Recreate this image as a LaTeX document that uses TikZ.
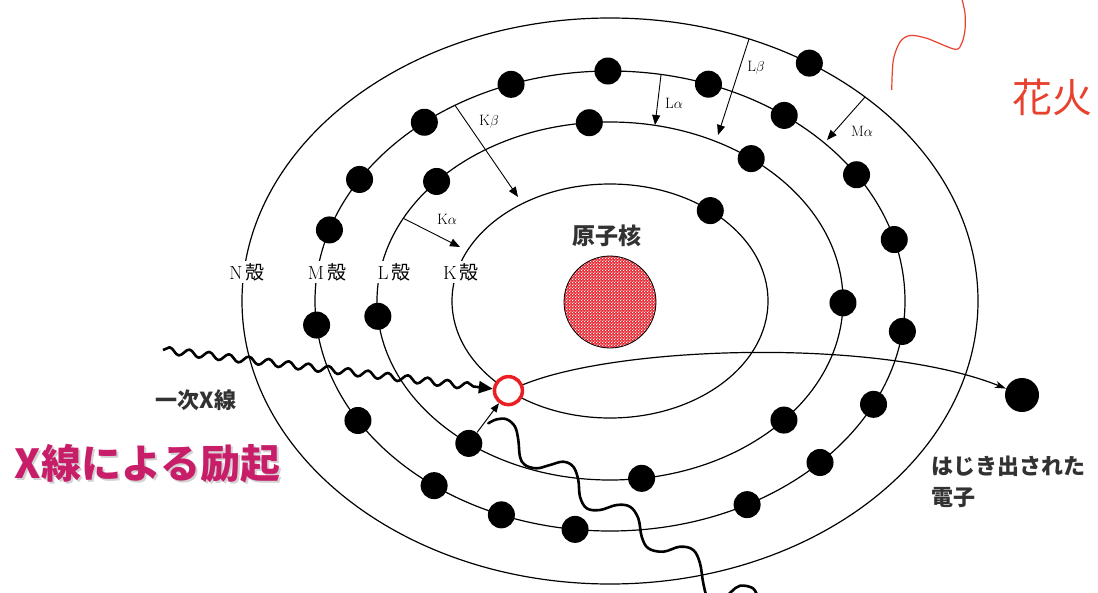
\documentclass[tikz,border=0pt]{standalone}
\usepackage{fontspec}
\newfontfamily\cjk{Noto Sans CJK JP}
\usetikzlibrary{decorations.pathmorphing,arrows.meta,patterns}
\definecolor{inkgray}{RGB}{50,50,50}
\definecolor{excite}{RGB}{200,30,105}
\definecolor{hanabi}{RGB}{232,65,45}
\definecolor{holered}{RGB}{235,30,35}
\definecolor{nucred}{RGB}{232,40,50}
% fine white checks laid over the red nucleus
\pgfdeclarepatternformonly{nucchecks}{\pgfpointorigin}{\pgfqpoint{3.2pt}{3.2pt}}{\pgfqpoint{3.2pt}{3.2pt}}{%
  \pgfpathrectangle{\pgfpointorigin}{\pgfqpoint{1.3pt}{1.3pt}}%
  \pgfpathrectangle{\pgfqpoint{1.6pt}{1.6pt}}{\pgfqpoint{1.3pt}{1.3pt}}%
  \pgfusepath{fill}}
\begin{document}
\begin{tikzpicture}[x=1pt,y=-1pt,
  shell/.style={line width=1.2pt},
  electron/.style={circle,fill=black,inner sep=0pt,minimum size=27pt},
  trans/.style={line width=0.9pt,-{Triangle[length=10pt,width=8pt]}},
  shelllabel/.style={fill=white,inner sep=2pt,font=\fontsize{19}{21}\selectfont},
  translabel/.style={inner sep=0pt,font=\fontsize{15}{17}\selectfont},
  jtext/.style={text=inkgray,inner sep=0pt,font=\cjk\bfseries\fontsize{22}{31}\selectfont},
  wave/.style={line width=2.6pt,line cap=round,line join=round},
]
\useasboundingbox (0,0) rectangle (1098,592);
\coordinate (c) at (610,301);

% electron shells K, L, M, N
\draw[shell] (c) ellipse [x radius=158pt, y radius=117pt];
\draw[shell] (c) ellipse [x radius=233pt, y radius=179pt];
\draw[shell] (c) ellipse [x radius=295pt, y radius=230pt];
\draw[shell] (c) ellipse [x radius=368pt, y radius=283pt];

% characteristic transitions
\coordinate (ka-s) at (403.3,218.3);
\coordinate (ka-e) at (460,247);
\coordinate (kb-s) at (455,105.3);
\coordinate (kb-e) at (518,197);
\coordinate (la-s) at (661,75);
\coordinate (la-e) at (655,125);
\coordinate (lb-s) at (749,39);
\coordinate (lb-e) at (718,135);
\coordinate (ma-s) at (865,97);
\coordinate (ma-e) at (827,140);
\draw[trans] (ka-s) -- (ka-e);
\draw[trans] (kb-s) -- (kb-e);
\draw[trans] (la-s) -- (la-e);
\draw[trans] (lb-s) -- (lb-e);
\draw[trans] (ma-s) -- (ma-e);
\node[translabel] (ka) at (447,219) {K$\alpha$};
\node[translabel] (kb) at (489,122) {K$\beta$};
\node[translabel] (la) at (674,103) {L$\alpha$};
\node[translabel] (lb) at (756,68) {L$\beta$};
\node[translabel] (ma) at (862,131) {M$\alpha$};

% shell names
\node[shelllabel] (nlab) at (247,272) {N\hspace{3pt}{\cjk 殻}};
\node[shelllabel] (mlab) at (327,272) {M\hspace{3pt}{\cjk 殻}};
\node[shelllabel] (llab) at (394,272) {L\hspace{3pt}{\cjk 殻}};
\node[shelllabel] (klab) at (461,272) {K\hspace{3pt}{\cjk 殻}};

% electrons on each shell
\foreach \t [count=\i] in {50.6}
  \node[electron] (k\i) at ({610+158*cos(\t)},{301-117*sin(\t)}) {};
\foreach \t [count=\i] in {138.1,95.1,52.7,359.4,318.3,277.8,232.7,184.9}
  \node[electron] (l\i) at ({610+233*cos(\t)},{301-179*sin(\t)}) {};
\foreach \t [count=\i] in {162,148.1,129,109.6,90.4,70.5,53.8,33.3,15.5,352.4,333.3,315.4,297.7,263.2,248.4,233.4,211.3,186}
  \node[electron] (m\i) at ({610+295*cos(\t)},{301-230*sin(\t)}) {};
\node[electron] (n1) at ({610+368*cos(57.2)},{301-283*sin(57.2)}) {};

% vacancy in the K shell
\node[circle,draw=holered,line width=3.5pt,fill=white,minimum size=28pt,inner sep=0pt]
  (hole) at ({610+158*cos(230)},{301-117*sin(230)}) {};

% nucleus
\node[circle,draw,line width=0.8pt,preaction={fill=nucred},pattern=nucchecks,pattern color=white,
  minimum size=92pt,inner sep=0pt] (nuc) at (610,302) {};
\node[jtext,font=\cjk\bfseries\fontsize{23}{25}\selectfont] (nuclab) at (607,236) {原子核};

% incident X-ray
\coordinate (xsrc) at (163,350);
\draw[wave,line cap=butt,decorate,
  decoration={snake,amplitude=3.5pt,segment length=20pt,post length=16pt},
  -{Triangle[length=14pt,width=12pt]}] (xsrc) -- (hole);

% L electron filling the vacancy
\draw[line width=1pt,-{Triangle[length=9pt,width=7pt]}] (l7) -- (hole);

% ejected photoelectron
\node[electron,minimum size=34pt] (ej) at (1022,395) {};
\draw[line width=1.2pt,-{Stealth[length=11pt,width=7pt,inset=3pt]}]
  (hole) .. controls (620,345) and (880,338) .. (ej);

% emitted fluorescent X-ray
\draw[wave] plot[smooth,tension=0.6] coordinates {
  (488.3,423.3) (496.7,419.3) (506.7,419.3) (515,426.7) (518.3,440) (520,456.7)
  (525,465) (536.7,468.3) (550,465) (563.3,461.7) (573.3,466.7) (578.3,480)
  (580,496.7) (586.7,508.3) (600,510) (616.7,505) (630,506.7) (638.3,518.3)
  (641.7,536.7) (648.3,548.3) (663.3,551.7) (680,546.7) (693.3,550) (700,563.3)
  (703.3,583.3) (708,598) (720,602) (731,592) (740,585.7) (753,588.3) (758,598)};

% spark curve
\draw[hanabi,line width=1.2pt] plot[smooth] coordinates {
  (891.7,90) (893.3,60) (900,42) (910,35.5) (926.7,38.3) (955,49.3)
  (961.7,43.3) (965,30) (965,13.3) (961.7,-2)};

% captions
\node[jtext] (xray) at (196,400) {一次X線};
\node[text=gray!35,inner sep=0pt,font=\cjk\bfseries\fontsize{40}{44}\selectfont]
  (excite-sh) at (149.5,465.5) {X線による励起};
\node[text=excite,inner sep=0pt,font=\cjk\bfseries\fontsize{40}{44}\selectfont]
  (excite) at (147.5,463.5) {X線による励起};
\node[jtext,anchor=west,align=left] (ejlab) at (931,482) {はじき出された\\電子};
\node[text=hanabi,inner sep=0pt,font=\cjk\fontsize{40}{44}\selectfont] (hanabi) at (1052,97) {花火};
\end{tikzpicture}
\end{document}
